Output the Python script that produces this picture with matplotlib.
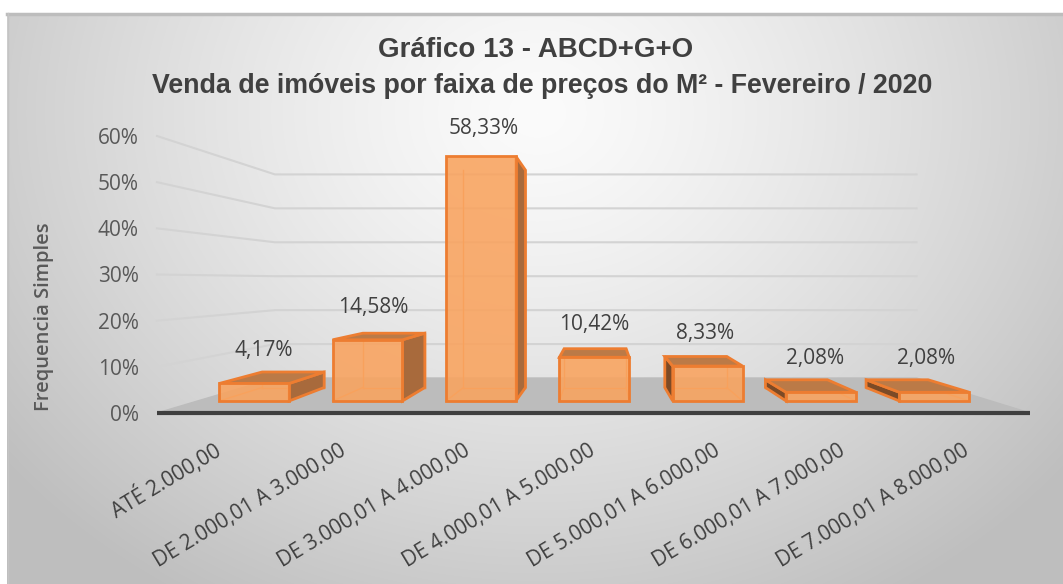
import numpy as np
import matplotlib
matplotlib.use("Agg")
import matplotlib.pyplot as plt
from matplotlib.ticker import PercentFormatter

categories = ['ATÉ 2.000,00', 'DE 2.000,01 A 3.000,00', 'DE 3.000,01 A 4.000,00',
              'DE 4.000,01 A 5.000,00', 'DE 5.000,01 A 6.000,00', 'DE 6.000,01 A 7.000,00',
              'DE 7.000,01 A 8.000,00']
values = [0.0417, 0.1458, 0.5833, 0.1042, 0.0833, 0.0208, 0.0208]
value_labels = ['4,17%', '14,58%', '58,33%', '10,42%', '8,33%', '2,08%', '2,08%']
yticks = [0, 0.1, 0.2, 0.3, 0.4, 0.5, 0.6]

W, H = 1063, 584
fig = plt.figure(figsize=(W / 100, H / 100), dpi=100)
fig.patch.set_facecolor('white')

# chart area background with radial gradient
bg = fig.add_axes([7 / W, 0, 1 - 7 / W, 1 - 13 / H])
yy, xx = np.mgrid[0:571, 0:1056]
r = np.sqrt(((xx - 530) / 620.0) ** 2 + ((yy - 100) / 520.0) ** 2)
g = np.clip(251 - 54 * np.clip(r, 0, 1.15) ** 1.3, 190, 255) / 255.0
bg.imshow(np.dstack([g, g, g]), aspect='auto', extent=[0, 1, 0, 1], origin='upper')
bg.set_xlim(0, 1)
bg.set_ylim(0, 1)
bg.axis('off')
bg.plot([0, 1], [0.998, 0.998], color='#bdbdbd', lw=2.5, transform=bg.transAxes, clip_on=False)
bg.plot([0.0005, 0.0005], [0, 1], color='#c4c4c4', lw=1, transform=bg.transAxes, clip_on=False)

# main axes = front plane of the 3d box
ax = fig.add_axes([157 / W, 1 - 413 / H, 873 / W, 277 / H])
ax.set_xlim(-0.5, 6.5)
ax.set_ylim(0, 0.6)
ax.patch.set_alpha(0)
for s in ax.spines.values():
    s.set_visible(False)

VX, VY, K = 3.068, 0.286, 0.265


def proj(x, d, v):
    s = 1 - K * d
    return VX + (x - VX) * s, VY + (v - VY) * s


def poly(pts):
    p = [proj(*q) for q in pts]
    return [a for a, b in p], [b for a, b in p]


# floor
fx, fy = poly([(-0.5, 0, 0), (6.5, 0, 0), (6.5, 1, 0), (-0.5, 1, 0)])
ax.fill(fx, fy, color='#bcbcbc', zorder=1, clip_on=False)

# gridlines on the left and back walls
for v in yticks[1:]:
    gx, gy = poly([(-0.5, 0, v), (-0.5, 1, v), (6.5, 1, v)])
    ax.plot(gx, gy, color='#d3d3d3', lw=1.5, zorder=1, clip_on=False)

lx, ly = poly([(-0.5, 0, 0), (6.5, 0, 0)])
ax.plot(lx, ly, color='#3f3f3f', lw=3, zorder=2, clip_on=False, solid_capstyle='butt')

BW, D0, D1 = 0.308, 0.343, 0.728
edge = '#ED7D31'
for i, v in enumerate(values):
    x0, x1 = i - BW, i + BW
    # hidden back edges, seen through the translucent faces
    for seg in [[(x0, D1, 0), (x1, D1, 0)], [(x0, D1, 0), (x0, D1, v)], [(x1, D1, 0), (x1, D1, v)],
                [(x0, D0, 0), (x0, D1, 0)], [(x1, D0, 0), (x1, D1, 0)]]:
        sx, sy = poly(seg)
        ax.plot(sx, sy, color='#f39a52', lw=1, zorder=3, clip_on=False)
    if x1 < VX:
        sx, sy = poly([(x1, D0, 0), (x1, D1, 0), (x1, D1, v), (x1, D0, v)])
        ax.fill(sx, sy, facecolor='#a86a3c', edgecolor=edge, lw=2, zorder=4, clip_on=False)
    if x0 > VX:
        sx, sy = poly([(x0, D0, 0), (x0, D1, 0), (x0, D1, v), (x0, D0, v)])
        ax.fill(sx, sy, facecolor='#7c4a26', edgecolor=edge, lw=2, zorder=4, clip_on=False)
    if v < VY:
        sx, sy = poly([(x0, D0, v), (x1, D0, v), (x1, D1, v), (x0, D1, v)])
        ax.fill(sx, sy, facecolor='#bb7a47', edgecolor=edge, lw=2, zorder=5, clip_on=False)
    sx, sy = poly([(x0, D0, 0), (x1, D0, 0), (x1, D0, v), (x0, D0, v)])
    ax.fill(sx, sy, facecolor='#f9a35e', alpha=0.88, zorder=6, clip_on=False)
    ax.fill(sx, sy, facecolor='none', edgecolor=edge, lw=2, zorder=7, clip_on=False)
    tx, ty = proj(i, 0.434, v)
    ax.annotate(value_labels[i], (tx, ty), xytext=(0, 22), textcoords='offset points',
                ha='center', va='center', fontsize=15, color='#404040',
                family='Open Sans', zorder=8, annotation_clip=False)

ax.set_yticks(yticks)
ax.yaxis.set_major_formatter(PercentFormatter(1.0, decimals=0))
ax.set_xticks(range(len(categories)))
ax.set_xticklabels(categories, rotation=31, ha='right', va='center', rotation_mode='anchor')
ax.tick_params(axis='x', length=0, pad=26, labelsize=15, labelcolor='#404040')
ax.tick_params(axis='y', length=0, pad=13, labelsize=15, labelcolor='#595959')
for lab in ax.get_xticklabels() + ax.get_yticklabels():
    lab.set_family('Open Sans')
ax.set_ylabel('Frequencia Simples', fontsize=14.5, color='#595959', family='Open Sans',
              fontweight='semibold')
ax.yaxis.set_label_coords(-103 / 873, 0.347)

fig.text(536 / W, 1 - 50 / H, 'Gráfico 13 - ABCD+G+O', ha='center', va='center',
         fontsize=20, fontweight='bold', color='#404040', family='Liberation Sans')
fig.text(542 / W, 1 - 86 / H, 'Venda de imóveis por faixa de preços do M² - Fevereiro / 2020',
         ha='center', va='center', fontsize=19.3, fontweight='bold', color='#404040',
         family='Liberation Sans')

fig.savefig('out.png', dpi=100)
